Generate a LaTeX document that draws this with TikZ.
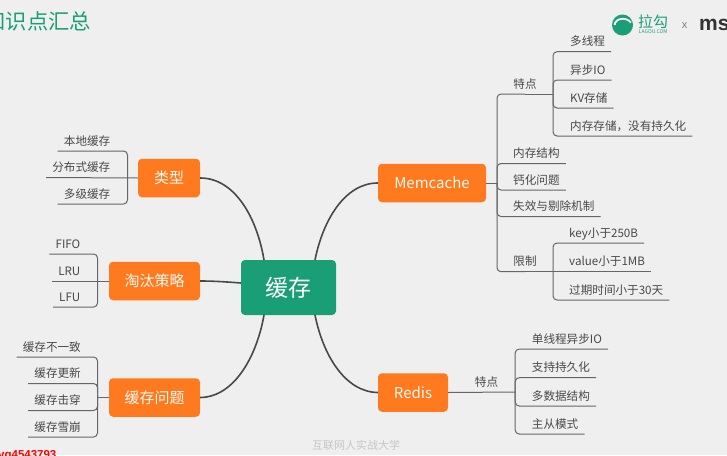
\documentclass[tikz,border=0pt]{standalone}
\usepackage{fontspec}
\setmainfont{Noto Sans CJK SC}
\newfontfamily\arialfont{Liberation Sans}
\usetikzlibrary{positioning, calc}
\definecolor{pagegray}{HTML}{EFEFEF}
\definecolor{lagougreen}{HTML}{1A9E75}
\definecolor{topicorange}{HTML}{FF7A1F}
\definecolor{inkgray}{HTML}{484848}

\begin{document}
\begin{tikzpicture}[
    x=1pt,y=-1pt,
    root/.style={draw=none,fill=lagougreen,rounded corners=4pt,text=white,minimum width=95pt,minimum height=55pt,inner sep=0,font=\fontsize{23}{26}\selectfont},
    topic/.style={draw=none,fill=topicorange,rounded corners=4pt,text=white!95!orange,minimum height=38.5pt,inner sep=0,font=\fontsize{15}{18}\selectfont},
    leaf/.style={text=inkgray,inner xsep=6pt,inner ysep=3.8pt,text height=10pt,text depth=2pt,font=\fontsize{11.6}{14}\selectfont},
    left leaf/.style={leaf,anchor=south east},
    right leaf/.style={leaf,anchor=south west},
    mid leaf/.style={leaf,anchor=south,inner xsep=0},
    bough/.style={draw=inkgray,line width=1.6pt},
    twig/.style={draw=gray!80!black,line width=1pt,rounded corners=4pt}]

    \useasboundingbox[fill=pagegray] (0,0) rectangle (727,455);

    % heading and logo
    \node[anchor=west,text=lagougreen,inner sep=0,font=\fontsize{21.3}{24}\selectfont] (title) at (-15.5,21.5) {知识点汇总};
    \node[circle,fill=lagougreen,minimum size=21pt,inner sep=0] (logo) at (622.5,25) {};
    \draw[white,line width=1.8pt] (614.5,25) .. controls (615.5,18) and (626,16.5) .. (631,22.5);
    \node[anchor=west,text=lagougreen,inner sep=0,font=\fontsize{15}{17}\selectfont] (lagou) at (638,21.5) {拉勾};
    \node[below=0.5pt of lagou,text=lagougreen,inner sep=0,font=\fontsize{5}{6}\selectfont] (lagoucom) {LAGOU.COM};
    \node[text=gray,inner sep=0,font=\arialfont\fontsize{11}{13}\selectfont] (times) at (684.5,25.5) {x};
    \node[anchor=base west,text=black!80,inner sep=0,font=\arialfont\bfseries\fontsize{21}{24}\selectfont] (ms) at (699,30) {ms};

    % centre and topics
    \node[root] (cache) at (288.5,287.5) {缓存};
    \node[topic,minimum width=62pt] (kinds) at (169,178) {类型};
    \node[topic,minimum width=91pt] (evict) at (154.5,281) {淘汰策略};
    \node[topic,minimum width=91pt] (issues) at (154.5,397.5) {缓存问题};
    \node[topic,minimum width=108pt] (memcache) at (432,183) {Memcache};
    \node[topic,minimum width=70pt] (redis) at (413,392.5) {Redis};

    \coordinate (cacheNW) at (264,260);
    \coordinate (cacheNE) at (315,260);
    \coordinate (cacheSW) at (264,315);
    \coordinate (cacheSE) at (315,315);

    \draw[bough] (kinds.east) .. controls (235,178) and (257,218) .. (cacheNW);
    \draw[bough] (evict.east) .. controls (215,281) and (228,282) .. (cache.west |- 0,283);
    \draw[bough] (issues.east) .. controls (235,397) and (257,355) .. (cacheSW);
    \draw[bough] (memcache.west) .. controls (345,183) and (323,220) .. (cacheNE);
    \draw[bough] (redis.west) .. controls (345,392) and (323,355) .. (cacheSE);

    % kinds
    \node[left leaf] (local) at (116.5,151) {本地缓存};
    \node[left leaf] (spread) at (116.5,177.5) {分布式缓存};
    \node[left leaf] (tiered) at (116.5,204) {多级缓存};
    \coordinate (kindsFork) at (127.5,178);
    \draw[twig] (local.south west) -| (kindsFork);
    \draw[twig] (tiered.south west) -| (kindsFork);
    \draw[twig] (spread.south west) -- (kinds.west);

    % eviction
    \node[left leaf] (fifo) at (86.5,254) {FIFO};
    \node[left leaf] (lru) at (86.5,281) {LRU};
    \node[left leaf] (lfu) at (86.5,307) {LFU};
    \coordinate (evictFork) at (97.5,281);
    \draw[twig] (fifo.south west) -| (evictFork);
    \draw[twig] (lfu.south west) -| (evictFork);
    \draw[twig] (lru.south west) -- (evict.west);

    % cache issues
    \node[left leaf] (mismatch) at (87,357) {缓存不一致};
    \node[left leaf] (update) at (87,383.5) {缓存更新};
    \node[left leaf] (pierce) at (87,410.5) {缓存击穿};
    \node[left leaf] (avalanche) at (87,437) {缓存雪崩};
    \coordinate (issuesFork) at (97.5,397.5);
    \draw[twig] (mismatch.south west) -| (issuesFork);
    \draw[twig] (update.south west) -| (issuesFork);
    \draw[twig] (pierce.south west) -| (issuesFork);
    \draw[twig] (avalanche.south west) -| (issuesFork);
    \draw[twig] (issuesFork) -- (issues.west);

    % memcache
    \coordinate (memFork) at (497,183);
    \node[mid leaf,minimum width=56pt] (memTraits) at (525,94) {特点};
    \node[right leaf] (memStruct) at (507,163.5) {内存结构};
    \node[right leaf] (memCalc) at (507,190) {钙化问题};
    \node[right leaf] (memExpire) at (507,216.5) {失效与剔除机制};
    \node[mid leaf,minimum width=56pt] (memLimit) at (525,271.7) {限制};
    \draw[twig] (memFork) |- (memTraits.south);
    \draw[twig] (memFork) |- (memStruct.south east);
    \draw[twig] (memFork) |- (memCalc.south east);
    \draw[twig] (memFork) |- (memExpire.south east);
    \draw[twig] (memFork) |- (memLimit.south);
    \draw[twig] (memcache.east) -- (memFork);
    \draw[twig] (memTraits.south) -- (memTraits.south east);
    \draw[twig] (memLimit.south) -- (memLimit.south east);

    \node[right leaf] (threads) at (564,51.7) {多线程};
    \node[right leaf] (asyncio) at (564,80) {异步IO};
    \node[right leaf] (kvstore) at (564,108) {KV存储};
    \node[right leaf] (inmem) at (564,136) {内存存储，没有持久化};
    \coordinate (traitsFork) at (553,94);
    \draw[twig] (traitsFork) |- (threads.south east);
    \draw[twig] (traitsFork) |- (asyncio.south east);
    \draw[twig] (traitsFork) |- (kvstore.south east);
    \draw[twig] (traitsFork) |- (inmem.south east);

    \node[right leaf] (keysize) at (563,243) {key小于250B};
    \node[right leaf] (valsize) at (563,271.7) {value小于1MB};
    \node[right leaf] (ttl) at (563,300) {过期时间小于30天};
    \coordinate (limitFork) at (553,271.7);
    \draw[twig] (limitFork) |- (keysize.south east);
    \draw[twig] (limitFork) |- (ttl.south east);
    \draw[twig] (limitFork) -- (valsize.south east);

    % redis
    \node[mid leaf,minimum width=57pt] (redisTraits) at (486.5,392) {特点};
    \draw[twig] (redis.east) -- (redisTraits.south east);

    \node[right leaf] (single) at (525.7,349) {单线程异步IO};
    \node[right leaf] (persist) at (525.7,377.7) {支持持久化};
    \node[right leaf] (structs) at (525.7,406) {多数据结构};
    \node[right leaf] (replica) at (525.7,434) {主从模式};
    \draw[twig] (redisTraits.south east) |- (single.south east);
    \draw[twig] (redisTraits.south east) |- (persist.south east);
    \draw[twig] (redisTraits.south east) |- (structs.south east);
    \draw[twig] (redisTraits.south east) |- (replica.south east);

    % watermarks
    \node[text=gray!45,inner sep=0,font=\fontsize{11}{13}\selectfont] (school) at (356,445) {互联网人实战大学};
    \node[anchor=base west,text=red,inner sep=0,font=\arialfont\bfseries\fontsize{11.5}{13}\selectfont] (wechat) at (-2,458) {yq4543793};
\end{tikzpicture}
\end{document}
